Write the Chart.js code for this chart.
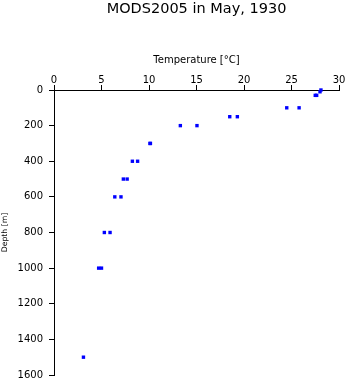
<!DOCTYPE html>
<html>
<head>
<meta charset="utf-8">
<script src="https://cdn.jsdelivr.net/npm/chart.js@4"></script>
<style>
html,body{margin:0;padding:0;background:#fff;}
#wrap{width:348px;height:384px;}
</style>
</head>
<body>
<div id="wrap"><canvas id="c" width="348" height="384"></canvas></div>
<script>
// Two casts, each a list of depth [m] and temperature [°C]
const castADepth = [0, 30, 100, 150, 200, 300, 400, 500, 600, 800, 1000, 1500];
const castATemp  = [28.1, 27.5, 24.5, 18.5, 13.3, 10.1, 8.25, 7.3, 6.4, 5.3, 4.7, 3.1];
const castBDepth = [10, 30, 100, 150, 200, 300, 400, 500, 600, 800, 1000];
const castBTemp  = [28.0, 27.65, 25.8, 19.3, 15.05, 10.15, 8.8, 7.7, 7.05, 5.9, 5.0];

const titleText = 'MODS2005 in May, 1930';
const xTitle = 'Temperature [°C]';
const yTitle = 'Depth [m]';

function pts(t, d){ return t.map((v,i)=>({x:v, y:d[i]})); }

const FONT = "'DejaVu Sans', sans-serif";
Chart.defaults.font.family = FONT;
Chart.defaults.color = '#000';

const pointStyle = {
  backgroundColor: '#0000ff',
  borderColor: '#0000ff',
  borderWidth: 0,
  pointStyle: 'rect',
  pointRadius: 2.4,
  showLine: false,
  clip: false
};

new Chart(document.getElementById('c'), {
  type: 'scatter',
  data: {
    datasets: [
      Object.assign({label: 'Cast A', data: pts(castATemp, castADepth)}, pointStyle),
      Object.assign({label: 'Cast B', data: pts(castBTemp, castBDepth)}, pointStyle)
    ]
  },
  options: {
    responsive: false,
    devicePixelRatio: 1,
    animation: false,
    layout: { padding: { left: 0, right: 9, top: 0, bottom: 9 } },
    plugins: {
      legend: { display: false },
      tooltip: { enabled: false },
      title: {
        display: true,
        text: titleText,
        fullSize: false,
        color: '#000',
        font: { family: FONT, size: 14.5, weight: 'normal', lineHeight: 1.2 },
        padding: { top: 1, bottom: 0.6 }
      }
    },
    scales: {
      x: {
        type: 'linear',
        position: 'top',
        min: 0, max: 30,
        ticks: { stepSize: 5, padding: -1, color: '#000', font: { family: FONT, size: 10 } },
        grid: { drawOnChartArea: false, drawTicks: true, tickLength: 5, color: '#000', lineWidth: 1 },
        border: { display: true, color: '#000', width: 1 },
        title: { display: true, text: xTitle, color: '#000', font: { family: FONT, size: 10 }, padding: { top: 35.5, bottom: 0 } },
        afterFit: (s) => { s.height = 71; }
      },
      y: {
        type: 'linear',
        position: 'left',
        reverse: true,
        min: 0, max: 1600,
        ticks: { stepSize: 200, padding: 6, color: '#000', font: { family: FONT, size: 10 },
                 callback: (v) => String(v) },
        grid: { drawOnChartArea: false, drawTicks: true, tickLength: 5, color: '#000', lineWidth: 1 },
        border: { display: true, color: '#000', width: 1 },
        title: { display: true, text: yTitle, color: '#000', font: { family: FONT, size: 7.7 }, padding: { top: 0, bottom: 0 } },
        afterFit: (s) => { s.width = 54; s.paddingBottom = 0; s.paddingTop = 0; }
      }
    }
  }
});
</script>
</body>
</html>
